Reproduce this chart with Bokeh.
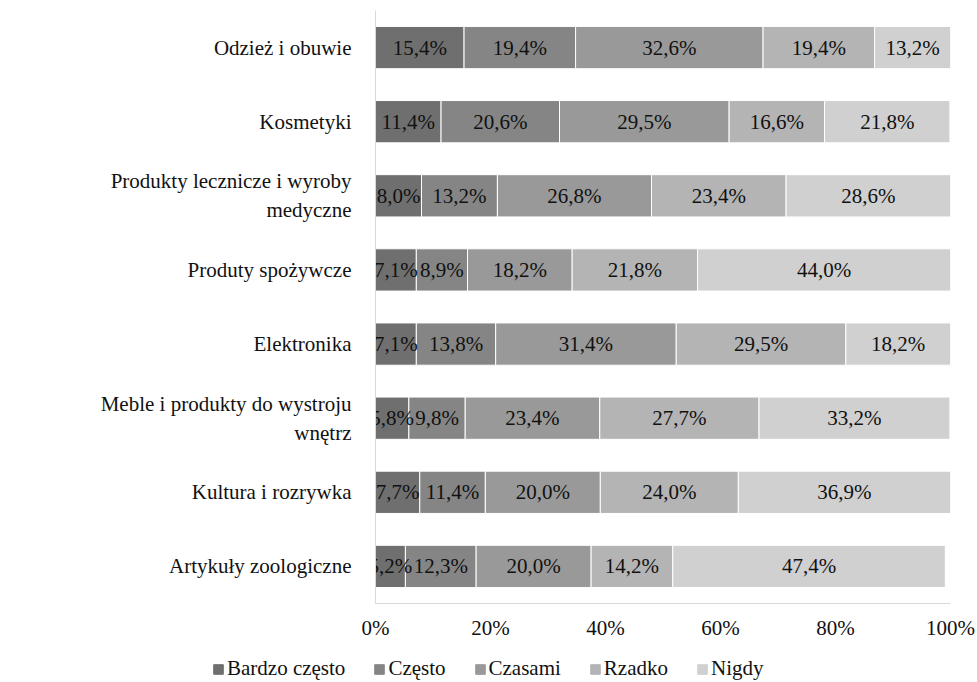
from bokeh.plotting import figure
from bokeh.models import (ColumnDataSource, Range1d, FixedTicker,
                          Legend, PrintfTickFormatter)
from bokeh.core.properties import value
from bokeh.embed import file_html
from bokeh.resources import INLINE

# Categories, top to bottom (second line of a wrapped label after "\n")
categories = [
    "Odzież i obuwie",
    "Kosmetyki",
    "Produkty lecznicze i wyroby\nmedyczne",
    "Produty spożywcze",
    "Elektronika",
    "Meble i produkty do wystroju\nwnętrz",
    "Kultura i rozrywka",
    "Artykuły zoologiczne",
]

series_names = ["Bardzo często", "Często", "Czasami", "Rzadko", "Nigdy"]

bardzo_czesto = [15.4, 11.4, 8.0, 7.1, 7.1, 5.8, 7.7, 5.2]
czesto = [19.4, 20.6, 13.2, 8.9, 13.8, 9.8, 11.4, 12.3]
czasami = [32.6, 29.5, 26.8, 18.2, 31.4, 23.4, 20.0, 20.0]
rzadko = [19.4, 16.6, 23.4, 21.8, 29.5, 27.7, 24.0, 14.2]
nigdy = [13.2, 21.8, 28.6, 44.0, 18.2, 33.2, 36.9, 47.4]

x_ticks = [0, 20, 40, 60, 80, 100]

colors = ["#6f6f6f", "#858585", "#999999", "#b4b4b4", "#d0d0d0"]
FONT = "Liberation Serif"
FS = "21px"

series = [bardzo_czesto, czesto, czasami, rzadko, nigdy]
keys = ["s0", "s1", "s2", "s3", "s4"]
n = len(categories)
ypos = [n - i for i in range(n)]  # first category at the top

data = {"y": ypos}
for k, vals in zip(keys, series):
    data[k] = vals
source = ColumnDataSource(data)

p = figure(width=977, height=650, output_backend="svg", toolbar_location=None,
           x_range=Range1d(0, 100), y_range=Range1d(0.5, n + 0.5),
           min_border_left=375, min_border_right=27, min_border_top=10,
           min_border_bottom=47)
p.outline_line_color = None
p.background_fill_color = "white"
p.border_fill_color = "white"
p.xgrid.visible = False
p.ygrid.visible = False

p.hbar_stack(keys, y="y", height=0.57, color=colors,
             line_color="white", line_width=1, source=source)

# Percentage labels centred in each segment
lx, ly, lt = [], [], []
for row in range(n):
    left = 0.0
    for vals in series:
        v = vals[row]
        lx.append(left + v / 2)
        ly.append(ypos[row])
        lt.append(f"{v:.1f}".replace(".", ",") + "%")
        left += v
p.text(x="x", y="y", text="t",
       source=ColumnDataSource(dict(x=lx, y=ly, t=lt)),
       text_align="center", text_baseline="middle",
       text_font=value(FONT), text_font_size=FS, text_color="#111111")

# Axes
p.xaxis.ticker = FixedTicker(ticks=x_ticks)
p.xaxis.formatter = PrintfTickFormatter(format="%d%%")
p.xaxis.axis_line_color = "#d9d9d9"
p.xaxis.major_tick_line_color = None
p.xaxis.minor_tick_line_color = None
p.xaxis.major_label_standoff = 6
p.xaxis.major_label_text_font = FONT
p.xaxis.major_label_text_font_size = FS
p.xaxis.major_label_text_color = "#111111"

p.yaxis.ticker = FixedTicker(ticks=ypos)
p.yaxis.major_label_overrides = {y: c for y, c in zip(ypos, categories)}
p.yaxis.axis_line_color = "#d9d9d9"
p.yaxis.major_tick_line_color = None
p.yaxis.minor_tick_line_color = None
p.yaxis.major_label_standoff = 18
p.yaxis.major_label_text_font = FONT
p.yaxis.major_label_text_font_size = FS
p.yaxis.major_label_text_color = "#111111"

# Legend strip under the chart; its swatch renderers hold no drawable data
leg = figure(width=977, height=32, output_backend="svg", toolbar_location=None,
             x_range=Range1d(0, 1), y_range=Range1d(0, 1),
             min_border=0, min_border_left=0, min_border_right=0,
             min_border_top=0, min_border_bottom=0)
leg.axis.visible = False
leg.grid.visible = False
leg.outline_line_color = None
leg.border_fill_color = "white"
nan = float("nan")
leg_renderers = [leg.hbar(y=[nan], right=[nan], height=0.5, color=c)
                 for c in colors]

legend = Legend(items=[(name, [r]) for name, r in zip(series_names, leg_renderers)],
                orientation="horizontal", location=(212, 1),
                glyph_width=12, glyph_height=12, label_standoff=3,
                spacing=28, padding=0, margin=0,
                label_text_font=FONT, label_text_font_size=FS,
                label_text_color="#111111", border_line_color=None,
                background_fill_alpha=0)
leg.add_layout(legend, "center")

# Two independent roots stacked on the page, so the strip keeps its own frame
open("out.html", "w").write(file_html([p, leg], INLINE))
